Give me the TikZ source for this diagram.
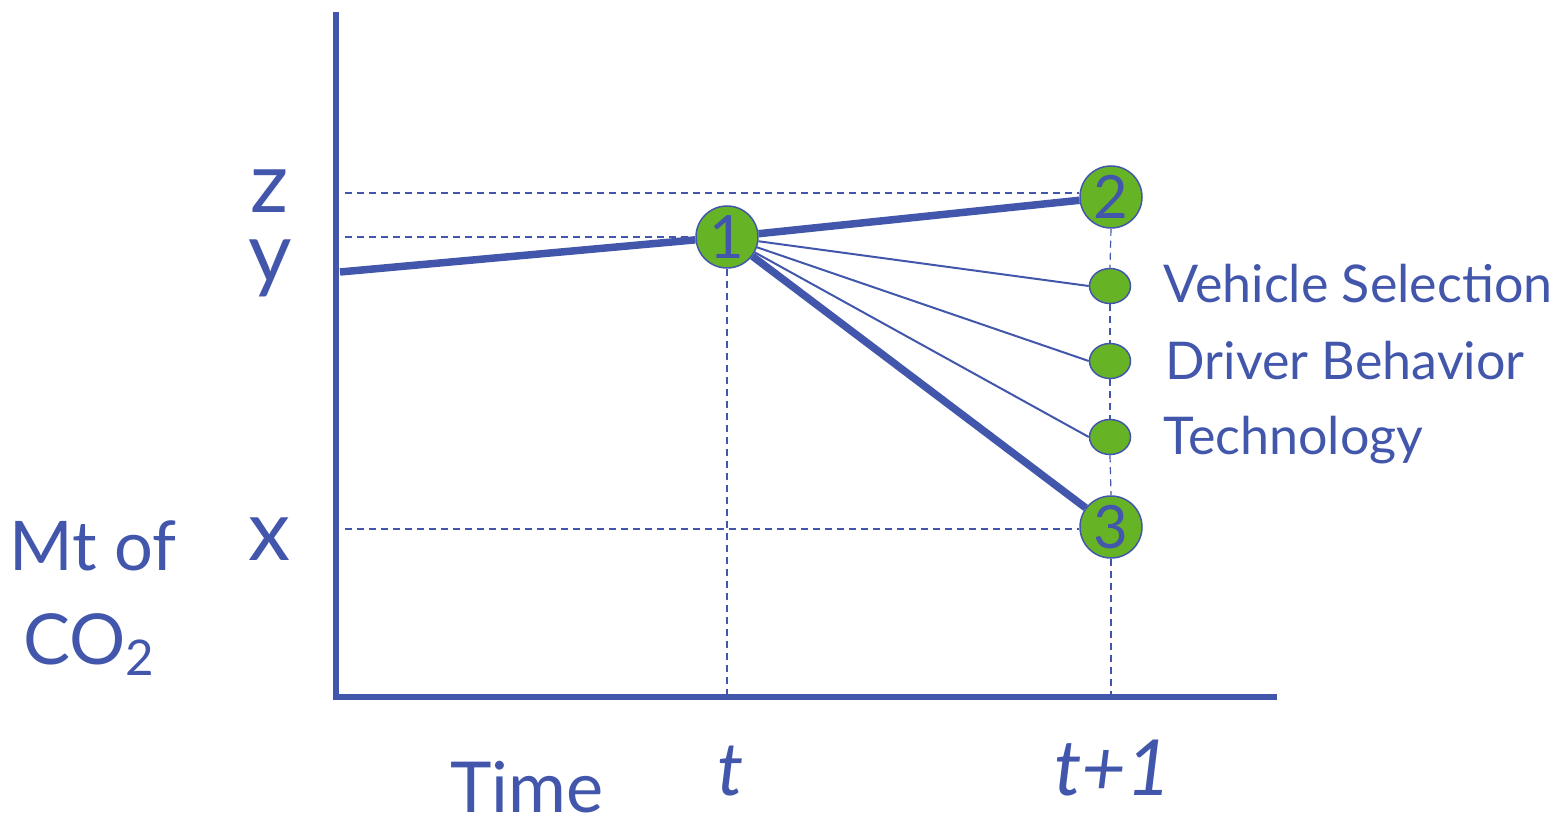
\documentclass[tikz,border=0pt]{standalone}
\usepackage{fontspec}
\setmainfont{Lato}
\usetikzlibrary{positioning}
\usetikzlibrary{shapes.geometric}
\definecolor{geblue}{RGB}{66,87,171}
\definecolor{gegreen}{RGB}{102,180,38}

\tikzset{
  axisline/.style={geblue, line width=0.065cm},
  thickline/.style={geblue, line width=0.075cm},
  thinline/.style={geblue, line width=0.02cm},
  guide/.style={geblue, line width=0.012cm, dash pattern=on 0.07cm off 0.05cm},
  bigdot/.style={circle, fill=gegreen, draw=geblue, line width=0.015cm, minimum size=0.62cm, inner sep=0pt, text=geblue, font=\fontsize{17}{17}\selectfont},
  smalldot/.style={ellipse, fill=gegreen, draw=geblue, line width=0.015cm, minimum width=0.41cm, minimum height=0.35cm, inner sep=0pt},
  lbl/.style={text=geblue, inner sep=0pt},
  axislbl/.style={lbl, anchor=base, font=\fontsize{24}{24}\selectfont, text height=1ex, text depth=0.2ex}
}

\begin{document}
\begin{tikzpicture}[x=1cm,y=1cm]
\useasboundingbox (0,0) rectangle (15.52,8.22);

% axes
\coordinate (orig) at (3.36,1.25);
\coordinate (ytop) at (3.36,8.10);
\coordinate (xend) at (12.77,1.25);
\draw[axisline] (ytop) -- (orig) -- (xend);

% points
\node[bigdot] (n1) at (7.27,5.85) {1};
\node[bigdot] (n2) at (11.11,6.25) {2};
\node[bigdot] (n3) at (11.11,2.95) {3};
\node[smalldot] (e1) at (11.10,5.36) {};
\node[smalldot] (e2) at (11.10,4.61) {};
\node[smalldot] (e3) at (11.10,3.85) {};

% guide lines
{
\coordinate (zl) at (3.45,6.29);
\coordinate (yl) at (3.45,5.85);
\coordinate (xl) at (3.45,2.93);
\draw[guide] (zl) -- (zl -| n2.west);
\draw[guide] (yl) -- (n1.west);
\draw[guide] (xl) -- (xl -| n3.west);
\draw[guide] (n1.south) -- (n1 |- orig);
\draw[guide] (n2.south) -- (e1.north);
\draw[guide] (e1.south) -- (e2.north);
\draw[guide] (e2.south) -- (e3.north);
\draw[guide] (e3.south) -- (n3.north);
\draw[guide] (n3.south) -- (n3 |- orig);
}

% trajectories
\coordinate (start) at (3.40,5.50);
\draw[thickline] (start) -- (n1);
\draw[thickline] (n1) -- (n2);
\draw[thickline] (n1) -- (n3);
\draw[thinline] (n1) -- (e1.west);
\draw[thinline] (n1) -- (e2.west);
\draw[thinline] (n1) -- (e3.west);

% labels
\node[axislbl] (zlab) at (2.70,6.09) {z};
\node[axislbl] (ylab) at (2.70,5.39) {y};
\node[axislbl] (xlab) at (2.70,2.62) {x};
\node[lbl, anchor=base] (mt) at (0.93,2.52) {\fontsize{19.5}{19.5}\selectfont Mt of};
\node[lbl, anchor=base] (co) at (0.90,1.57) {\fontsize{20}{20}\selectfont CO\textsubscript{2}};
\node[lbl, anchor=base] (time) at (5.27,0.10) {\fontsize{20}{20}\selectfont Time};
\node[lbl, anchor=base] (tlab) at (7.31,0.27) {\fontsize{21}{21}\selectfont\itshape t};
\node[lbl, anchor=base] (t1lab) at (11.13,0.27) {\fontsize{22}{22}\selectfont\itshape t+1};

\node[lbl, anchor=base west] (vs) at (11.63,5.19) {\fontsize{14.8}{14.8}\selectfont Vehicle Selection};
\node[lbl, anchor=base west] (db) at (11.65,4.43) {\fontsize{14.8}{14.8}\selectfont Driver Behavior};
\node[lbl, anchor=base west] (te) at (11.63,3.67) {\fontsize{14.8}{14.8}\selectfont Technology};

\end{tikzpicture}
\end{document}
